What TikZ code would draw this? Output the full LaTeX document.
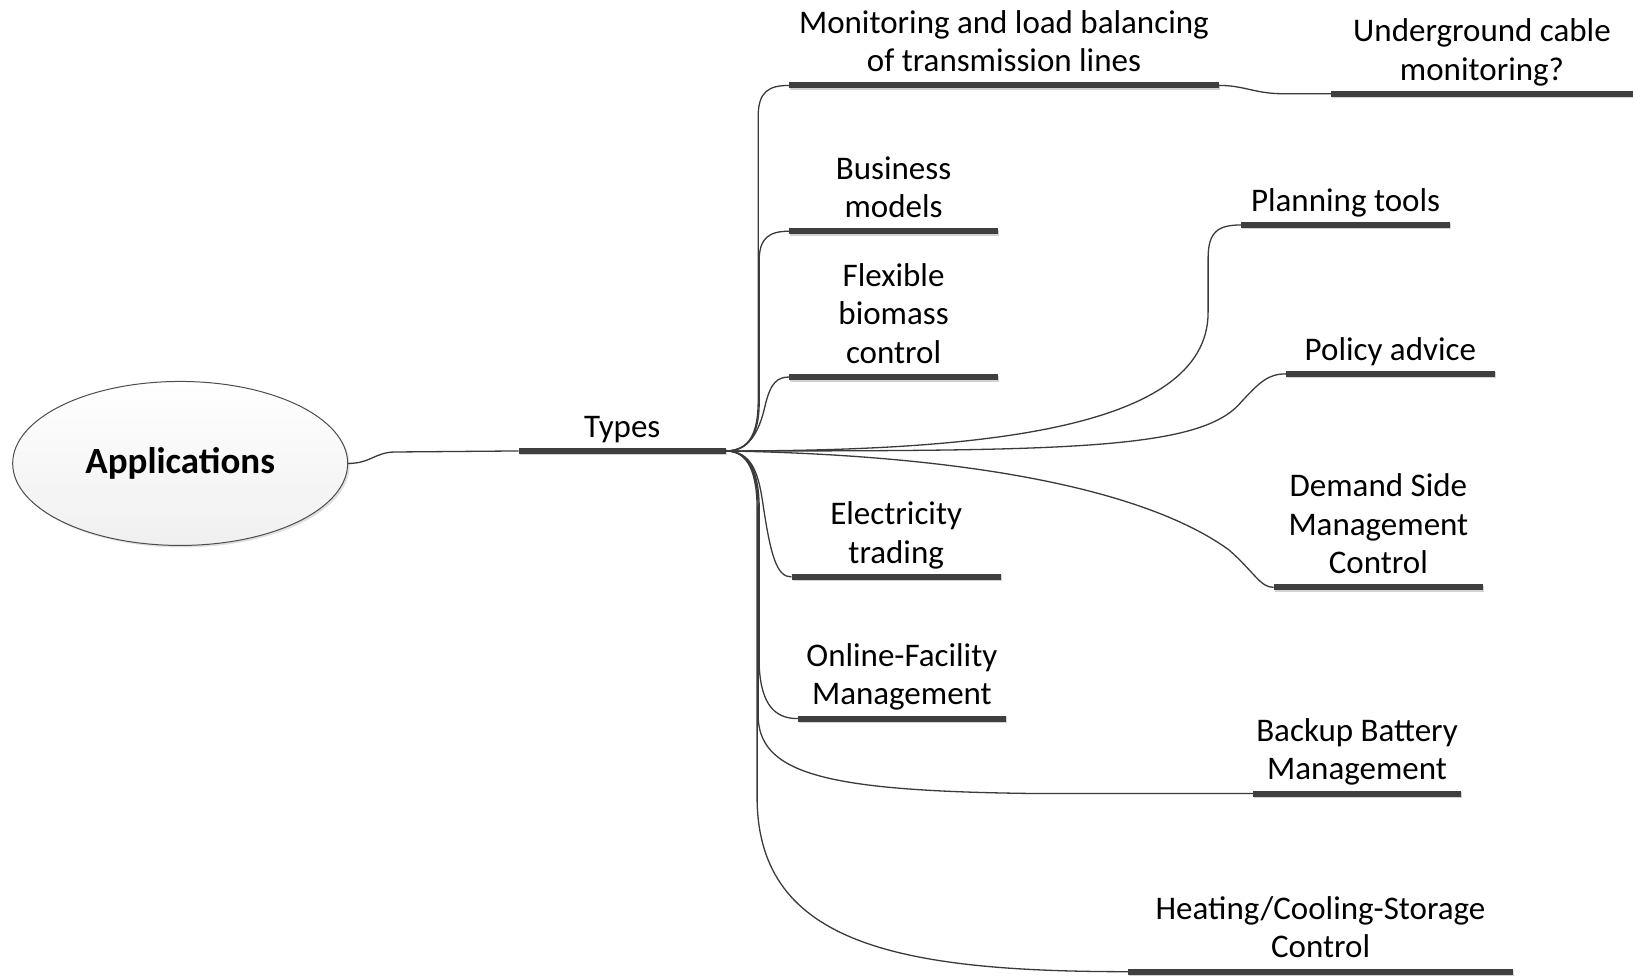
\documentclass[tikz,border=0pt]{standalone}
\usepackage{fontspec}
\setmainfont{Carlito}
\usetikzlibrary{shapes.geometric,shadows,calc}
\definecolor{barc}{HTML}{3F3F3F}
\definecolor{linec}{HTML}{3A3A3A}
\newcommand{\dstr}{\rule[-8pt]{0pt}{8pt}}
\newcommand{\mkbar}[4]{%
  \coordinate (#1L) at (#2,#4);
  \coordinate (#1R) at (#3,#4);
  \draw[barshadow] (#1L) -- (#1R);
  \draw[barline] (#1L) -- (#1R);
  \coordinate (#1M) at ($(#1L)!0.5!(#1R)$);
}
\begin{document}
\begin{tikzpicture}[x=1.0415pt,y=-1.0415pt,
  barline/.style={draw=barc,line width=6pt},
  barshadow/.style={draw=gray!35,line width=6pt,transform canvas={xshift=1pt,yshift=-1.5pt}},
  conn/.style={draw=linec,line width=1.3pt},
  lab/.style={anchor=south,inner sep=0pt,align=center,yshift=5.5pt,
    font=\fontsize{33}{38.5}\selectfont,text=black}]
\useasboundingbox (0,0) rectangle (1568,937);

\node[ellipse,draw=gray!60!black,line width=1pt,minimum width=335pt,minimum height=164pt,
  top color=white,bottom color=gray!12,drop shadow={opacity=0.25,shadow xshift=2pt,shadow yshift=-2pt},
  font=\fontsize{37}{40}\selectfont\bfseries] (app) at (173,445) {Applications};

\mkbar{ty}{498}{697}{433}
\node[lab] (tyT) at (tyM) {Types\dstr};

\mkbar{mon}{758}{1170}{82}
\node[lab] (monT) at (monM) {Monitoring and load balancing\\of transmission lines\dstr};
\mkbar{und}{1278}{1568}{90}
\node[lab] (undT) at (undM) {Underground cable\\monitoring?\dstr};
\mkbar{bus}{758}{958}{222}
\node[lab] (busT) at (busM) {Business\\models\dstr};
\mkbar{flx}{758}{958}{362}
\node[lab] (flxT) at (flxM) {Flexible\\biomass\\control\dstr};
\mkbar{pln}{1192}{1392}{216}
\node[lab] (plnT) at (plnM) {Planning tools\dstr};
\mkbar{pol}{1235}{1435}{359}
\node[lab] (polT) at (polM) {Policy advice\dstr};
\mkbar{dsm}{1223}{1424}{564}
\node[lab] (dsmT) at (dsmM) {Demand Side\\Management\\Control\dstr};
\mkbar{ele}{760}{961}{554}
\node[lab] (eleT) at (eleM) {Electricity\\trading\dstr};
\mkbar{onl}{766}{966}{690}
\node[lab] (onlT) at (onlM) {Online-Facility\\Management\dstr};
\mkbar{bak}{1203}{1403}{762}
\node[lab] (bakT) at (bakM) {Backup Battery\\Management\dstr};
\mkbar{hea}{1083}{1453}{933}
\node[lab] (heaT) at (heaM) {Heating/Cooling-Storage\\Control\dstr};

% connectors
\draw[conn] (app.east) .. controls (356,445) and (360,434) .. (380,434) -- (tyL);
\draw[conn] (monR) .. controls (1195,82) and (1205,90) .. (1232,90) -- (undL);

\draw[conn] (tyR) .. controls (720,433) and (728,415) .. (728,385) -- (728,112) .. controls (728,88) and (738,82) .. (monL);
\draw[conn] (tyR) .. controls (721,433) and (729,415) .. (729,385) -- (729,250) .. controls (729,228) and (739,222) .. (busL);
\draw[conn] (tyR) .. controls (722,433) and (730,410) .. (735,388) .. controls (740,368) and (746,362) .. (flxL);

\draw[conn] (tyR) .. controls (722,433) and (728,455) .. (732,480) .. controls (740,535) and (746,554) .. (eleL);
\draw[conn] (tyR) .. controls (721,433) and (729,455) .. (729,490) -- (729,640) .. controls (731,678) and (745,690) .. (onlL);
\draw[conn] (tyR) .. controls (720,433) and (728,455) .. (728,490) -- (728,690) .. controls (731,745) and (800,760) .. (1000,762) -- (bakL);
\draw[conn] (tyR) .. controls (719,433) and (727,455) .. (727,490) -- (727,770) .. controls (730,905) and (860,933) .. (heaL);

\draw[conn] (tyR) .. controls (930,433) and (1160,415) .. (1160,300) -- (1160,248) .. controls (1160,222) and (1170,216) .. (plnL);
\draw[conn] (tyR) .. controls (1020,433) and (1150,432) .. (1190,388) .. controls (1210,366) and (1218,359) .. (polL);
\draw[conn] (tyR) .. controls (930,437) and (1100,470) .. (1180,528) .. controls (1205,550) and (1210,564) .. (dsmL);
\end{tikzpicture}
\end{document}
